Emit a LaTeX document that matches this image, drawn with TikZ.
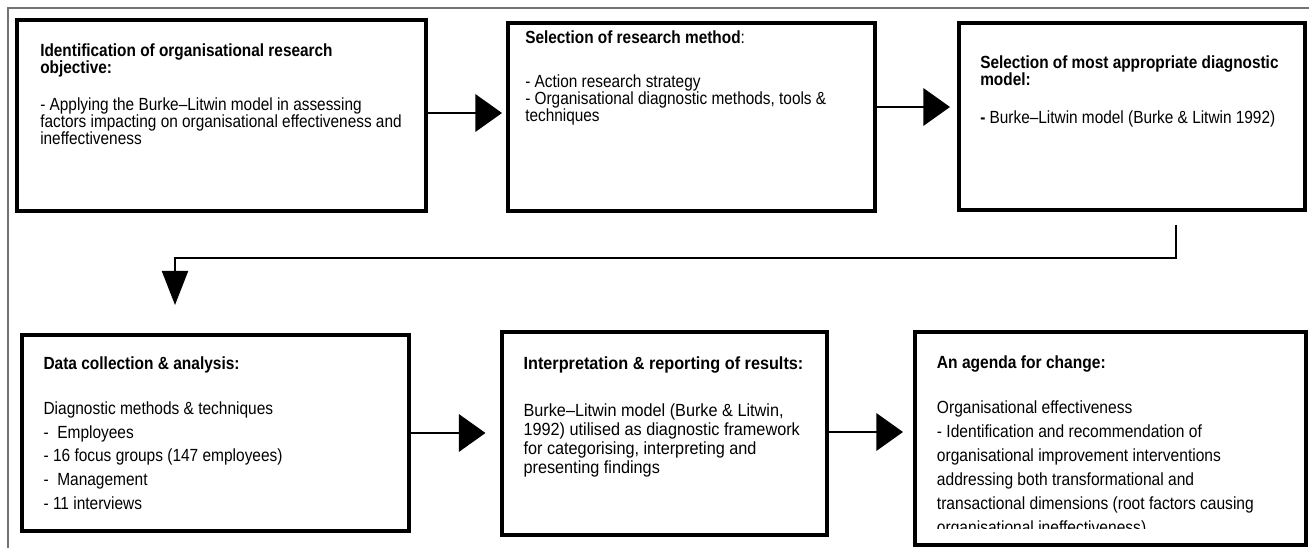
\documentclass[tikz,border=0pt]{standalone}
\usepackage{fontspec}
\setmainfont{Liberation Sans}
\newfontfamily\fA{Liberation Sans}[FakeStretch=0.874]
\newfontfamily\fD{Liberation Sans}[FakeStretch=0.879]
\newfontfamily\fE{Liberation Sans}[FakeStretch=0.923]
\newfontfamily\fF{Liberation Sans}[FakeStretch=0.885]
\newcommand\fl{\vrule height 12pt depth 0pt width 0pt\relax}
\newcommand\tightlines{\lineskiplimit=-100pt\relax\lineskip=0pt\relax}
\usetikzlibrary{arrows.meta}
\begin{document}
\begin{tikzpicture}[x=0.75pt,y=-0.75pt,
  box/.style={draw, line width=3pt, inner sep=0pt, outer sep=0pt, anchor=north west},
  tx/.style={anchor=north west, inner sep=0pt, align=left},
  txtA/.style={tx, font=\fA\fontsize{13.2pt}{12.75pt}\selectfont\tightlines},
  txtD/.style={tx, font=\fD\fontsize{13.2pt}{17.8pt}\selectfont\tightlines},
  txtE/.style={tx, font=\fE\fontsize{13.2pt}{14.2pt}\selectfont\tightlines},
  txtF/.style={tx, font=\fF\fontsize{13.2pt}{18pt}\selectfont\tightlines},
  arr/.style={line width=2pt, -{Triangle[length=20pt,width=28pt]}},
  conn/.style={line width=1.5pt}
]
\useasboundingbox (0,0) rectangle (1309,548);
% outer frame
\draw[black!55, line width=0.9pt] (8,548) -- (8,8) -- (1309,8);

% boxes
\node[box, minimum width=306.75pt, minimum height=142.9pt] (b1) at (16.5,20) {};
\node[box, minimum width=275.25pt, minimum height=140.6pt] (b2) at (508,23.5) {};
\node[box, minimum width=259.5pt, minimum height=139.9pt] (b3) at (959,23.5) {};
\node[box, minimum width=290.25pt, minimum height=147pt] (b4) at (22,335) {};
\node[box, minimum width=244.1pt, minimum height=152.25pt] (b5) at (501.5,332) {};
\node[box, minimum width=293.6pt, minimum height=159.75pt] (b6) at (915,332) {};

% texts (y = first baseline - 16)
\node[txtA] (t1) at (40,40) {\fl\bfseries Identification of organisational research\\\bfseries objective:};
\node[txtA] (d1) at (40,94.5) {\fl- Applying the Burke–Litwin model in assessing\\factors impacting on organisational effectiveness and\\ineffectiveness};

\node[txtA] (t2) at (525,27) {\fl\textbf{Selection of research method}:};
\node[txtA] (d2) at (525,71.5) {\fl- Action research strategy\\- Organisational diagnostic methods, tools \&\\techniques};

\node[txtA] (t3) at (980,52.5) {\fl\bfseries Selection of most appropriate diagnostic\\\bfseries model:};
\node[txtA] (d3) at (980,107) {\fl\textbf{-} Burke–Litwin model (Burke \& Litwin 1992)};

\node[txtD] (t4) at (43.3,353.5) {\fl\bfseries Data collection \& analysis:};
\node[txtD] (d4) at (43.3,398) {\fl Diagnostic methods \& techniques\\-\ \ Employees\\- 16 focus groups (147 employees)\\-\ \ Management\\- 11 interviews};

\node[txtE] (t5) at (523.3,353.5) {\fl\bfseries Interpretation \& reporting of results:};
\node[txtE] (d5) at (523.3,400) {\fl Burke–Litwin model (Burke \& Litwin,\\1992) utilised as diagnostic framework\\for categorising, interpreting and\\presenting findings};

\node[txtF] (t6) at (936.7,352.5) {\fl\bfseries An agenda for change:};
\begin{scope}
\clip (915,332) rectangle (1306,528.5);
\node[txtF] (d6) at (936.7,397) {\fl Organisational effectiveness\\- Identification and recommendation of\\organisational improvement interventions\\addressing both transformational and\\transactional dimensions (root factors causing\\organisational ineffectiveness)};
\end{scope}

% connectors
\coordinate (y1) at (0,113);
\coordinate (y2) at (0,107);
\coordinate (y4) at (0,433);
\coordinate (y5) at (0,432);
\draw[arr, shorten >=4.5pt] (b1.east |- y1) -- (b2.west |- y1);
\draw[arr, shorten >=6.75pt] (b2.east |- y2) -- (b3.west |- y2);
\draw[arr, shorten >=12pt] (b4.east |- y4) -- (b5.west |- y4);
\draw[arr, shorten >=9pt] (b5.east |- y5) -- (b6.west |- y5);

\coordinate (c3) at (1176,225);
\coordinate (c4) at (175,258);
\draw[conn, -{Triangle[length=25.5pt,width=19.5pt]}, shorten >=22.5pt] (c3) |- (c4) -- (b4.north -| c4);
\end{tikzpicture}
\end{document}
